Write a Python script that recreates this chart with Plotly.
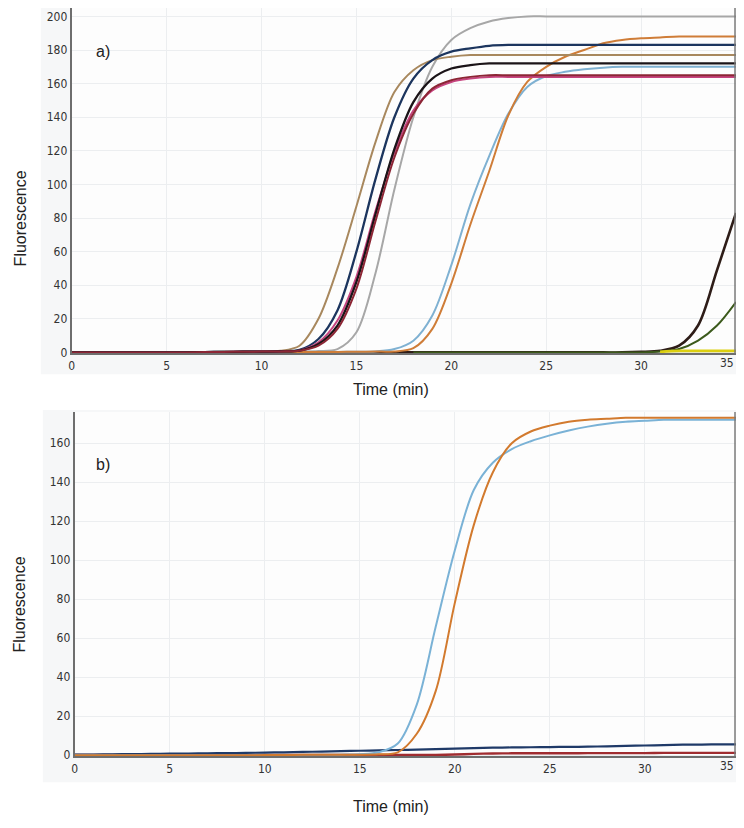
import plotly.graph_objects as go

# ---------------- data (time in minutes) ----------------
TIME_MIN = [0, 1, 2, 3, 4, 5, 6, 7, 8, 9, 10, 11, 12, 13, 14, 15, 16, 17,
            18, 19, 20, 21, 22, 23, 24, 25, 26, 27, 28, 29, 30, 31, 32, 33, 34, 35]

# panel a)
A_TAN = [0, 0, 0, 0, 0, 0, 0, 0.2, 0.4, 0.5, 0.6, 1.0, 4, 20, 50, 87, 125, 155,
         168, 174, 176, 177, 177, 177, 177, 177, 177, 177, 177, 177, 177, 177, 177, 177, 177, 177]
A_NAVY = [0, 0, 0, 0, 0, 0, 0, 0.2, 0.3, 0.4, 0.5, 0.7, 1.5, 8, 25, 60, 103, 140,
          163, 174, 179, 181, 182.5, 183, 183, 183, 183, 183, 183, 183, 183, 183, 183, 183, 183, 183]
A_BLACK = [0, 0, 0, 0, 0, 0, 0, 0.2, 0.3, 0.4, 0.5, 0.6, 1, 5, 16, 42, 82, 121,
           149, 163, 169, 171, 172, 172, 172, 172, 172, 172, 172, 172, 172, 172, 172, 172, 172, 172]
A_MAGENTA = [0, 0, 0, 0, 0, 0, 0, 0.2, 0.3, 0.4, 0.5, 0.6, 1.2, 6, 19, 45, 84, 119,
             144, 156, 161, 163, 164, 164, 164, 164, 164, 164, 164, 164, 164, 164, 164, 164, 164, 164]
A_RED = [0, 0, 0, 0, 0, 0, 0, 0.2, 0.3, 0.4, 0.5, 0.6, 1, 4, 14, 38, 78, 116,
         142, 157, 162, 164, 165, 165, 165, 165, 165, 165, 165, 165, 165, 165, 165, 165, 165, 165]
A_GRAY = [0, 0, 0, 0, 0, 0, 0, 0.2, 0.3, 0.3, 0.4, 0.4, 0.5, 0.8, 2, 12, 47, 97,
          140, 170, 186, 193, 197, 199, 200, 200, 200, 200, 200, 200, 200, 200, 200, 200, 200, 200]
A_LIGHTBLUE = [0, 0, 0, 0, 0, 0, 0, 0, 0, 0, 0.1, 0.1, 0.2, 0.2, 0.3, 0.4, 0.6, 2,
               7, 22, 52, 88, 117, 142, 158, 164.5, 167, 168.5, 169.5, 170, 170, 170, 170, 170, 170, 170]
A_ORANGE = [0, 0, 0, 0, 0, 0, 0, 0, 0, 0, 0.1, 0.1, 0.2, 0.2, 0.3, 0.4, 0.5, 0.6,
            2.5, 14, 41, 76, 108, 141, 161, 170, 176, 180, 184, 186, 187, 187.5, 188, 188, 188, 188]
A_LATE_BROWN = [None, None, None, None, None, None, None, 0, 0, 0, 0, 0, 0, 0, 0, 0, 0, 0,
                0, 0, 0, 0, 0, 0, 0, 0, 0, 0, 0, 0, 0.3, 1, 4, 16, 49, 83]
A_LATE_GREEN = [None, None, None, None, None, None, None, None, None, None, None, None, None, None, None, None, None, None,
                0, 0, 0, 0, 0, 0, 0, 0, 0, 0, 0, 0, 0, 0.5, 2, 7, 16, 30]
A_YELLOW = [None, None, None, None, None, None, None, None, None, None, None, None, None, None, None, None, None, None,
            None, None, None, None, None, None, None, None, None, None, None, None, None, 0.3, 0.9, 0.9, 0.9, 0.9]

# panel b)
B_LIGHTBLUE = [0, 0, 0, 0, 0, 0, 0, 0, 0, 0, 0.1, 0.1, 0.2, 0.2, 0.3, 0.5, 1.5, 6,
               26, 66, 105, 136, 150, 157, 161, 164, 166.5, 168.5, 170, 171, 171.5, 172, 172, 172, 172, 172]
B_ORANGE = [0, 0, 0, 0, 0, 0, 0, 0, 0, 0, 0.1, 0.1, 0.2, 0.2, 0.3, 0.3, 0.5, 1.5,
            11, 33, 78, 118, 145, 160, 166, 169, 171, 172, 172.5, 173, 173, 173, 173, 173, 173, 173]
B_NAVY = [0.3, 0.4, 0.5, 0.6, 0.7, 0.8, 0.9, 1.0, 1.1, 1.2, 1.4, 1.5, 1.7, 1.9, 2.1, 2.3, 2.5, 2.7,
          2.9, 3.1, 3.4, 3.7, 3.9, 4.0, 4.1, 4.2, 4.3, 4.4, 4.6, 4.8, 5.0, 5.2, 5.4, 5.5, 5.6, 5.6]
B_RED = [0.2, 0.2, 0.2, 0.2, 0.2, 0.2, 0.2, 0.2, 0.2, 0.2, 0.2, 0.2, 0.2, 0.2, 0.2, 0.2, 0.2, 0.2,
         0.2, 0.2, 0.4, 0.7, 0.9, 1.0, 1.0, 1.0, 1.0, 1.1, 1.1, 1.1, 1.1, 1.2, 1.2, 1.2, 1.2, 1.2]

X_TICKS = [0, 5, 10, 15, 20, 25, 30]
X_LAST_TICK = "35"
A_Y_TICKS = [0, 20, 40, 60, 80, 100, 120, 140, 160, 180, 200]
B_Y_TICKS = [0, 20, 40, 60, 80, 100, 120, 140, 160]

# ---------------- figure ----------------
# page is 744x828; the browser's default 8px body margin is accounted for
OFF = 8
W, H = 744 - 2 * OFF, 828 - 2 * OFF
fig = go.Figure()


def add(y, color, axis, width=2.0):
    xa, ya = axis
    fig.add_trace(go.Scatter(
        x=TIME_MIN, y=y, mode="lines", xaxis=xa, yaxis=ya,
        line=dict(color=color, width=width, shape="spline", smoothing=0.9),
        connectgaps=False, hoverinfo="skip", showlegend=False))


TOP = ("x", "y")
BOT = ("x2", "y2")

add(A_LATE_BROWN, "#2e1d18", TOP, 2.6)
add(A_LATE_GREEN, "#3c5a1c", TOP, 2.0)
add(A_YELLOW, "#dccf10", TOP, 2.6)
add(A_GRAY, "#a7a7a7", TOP)
add(A_LIGHTBLUE, "#7fb1d2", TOP)
add(A_ORANGE, "#cf7d38", TOP)
add(A_TAN, "#a8885e", TOP)
add(A_NAVY, "#1c355e", TOP, 2.3)
add(A_MAGENTA, "#c6447f", TOP)
add(A_BLACK, "#1b1418", TOP, 2.3)
add(A_RED, "#8c2635", TOP)

add(B_RED, "#a02c30", BOT, 2.4)
add(B_NAVY, "#1f3a68", BOT, 2.2)
add(B_LIGHTBLUE, "#7ab2d6", BOT)
add(B_ORANGE, "#d27a2e", BOT)


def px_x(p):
    return min(max((p - OFF) / W, 0), 1)


def px_y(p):
    return min(max(1 - (p - OFF) / H, 0), 1)


tickfont = dict(family="Tahoma, DejaVu Sans Condensed, DejaVu Sans", size=12, color="#333333")
grid = "#eceef0"

common_x = dict(tickvals=X_TICKS + [35], ticktext=[str(v) for v in X_TICKS] + [""],
                showgrid=True, gridcolor=grid, gridwidth=1,
                zeroline=False, showline=True, linecolor="#6e6e6e", linewidth=2,
                ticks="", tickfont=tickfont, fixedrange=True)
common_y = dict(showgrid=True, gridcolor=grid, gridwidth=1, zeroline=False,
                showline=True, linecolor="#6e6e6e", linewidth=2,
                ticks="", tickfont=tickfont, fixedrange=True)

TOP_DOM_X = [px_x(69), px_x(737)]
TOP_DOM_Y = [px_y(356), px_y(8)]
BOT_DOM_X = [px_x(72), px_x(736)]
BOT_DOM_Y = [px_y(762), px_y(415)]

fig.update_layout(
    width=W, height=H,
    margin=dict(l=0, r=0, t=0, b=0),
    paper_bgcolor="white",
    plot_bgcolor="#fdfdfd",
    showlegend=False,
    xaxis=dict(domain=TOP_DOM_X, anchor="y", range=[0, 35], **common_x),
    yaxis=dict(domain=TOP_DOM_Y, anchor="x", range=[-0.6, 205],
               tickvals=A_Y_TICKS, **common_y),
    xaxis2=dict(domain=BOT_DOM_X, anchor="y2", range=[0, 34.8], **common_x),
    yaxis2=dict(domain=BOT_DOM_Y, anchor="x2", range=[-0.6, 176],
                tickvals=B_Y_TICKS, **common_y),
    shapes=[
        dict(type="rect", xref="paper", yref="paper", x0=px_x(38), x1=1,
             y0=px_y(377), y1=1, fillcolor="#f6f7f8", line=dict(width=0), layer="below"),
        dict(type="rect", xref="paper", yref="paper", x0=px_x(40), x1=1,
             y0=px_y(788), y1=px_y(413), fillcolor="#f6f7f8", line=dict(width=0), layer="below"),
        dict(type="rect", xref="paper", yref="paper", x0=TOP_DOM_X[0], x1=TOP_DOM_X[1],
             y0=TOP_DOM_Y[0], y1=TOP_DOM_Y[1], fillcolor="#fdfdfd", line=dict(width=0), layer="below"),
        dict(type="rect", xref="paper", yref="paper", x0=BOT_DOM_X[0], x1=BOT_DOM_X[1],
             y0=BOT_DOM_Y[0], y1=BOT_DOM_Y[1], fillcolor="#fdfdfd", line=dict(width=0), layer="below"),
        dict(type="line", xref="paper", yref="paper", x0=px_x(735), x1=px_x(735),
             y0=TOP_DOM_Y[0], y1=TOP_DOM_Y[1], line=dict(color="#7a7a7a", width=1.5), layer="above"),
        dict(type="line", xref="paper", yref="paper", x0=px_x(735), x1=px_x(735),
             y0=BOT_DOM_Y[0], y1=BOT_DOM_Y[1], line=dict(color="#7a7a7a", width=1.5), layer="above"),
    ],
)

title_font = dict(family="Liberation Sans, Arial, sans-serif", size=16, color="#222222")
ann = [
    dict(text="Fluorescence", x=px_x(17), y=px_y(220), textangle=-90),
    dict(text="Fluorescence", x=px_x(17), y=px_y(609), textangle=-90),
    dict(text="Time (min)", x=px_x(390), y=px_y(392)),
    dict(text="Time (min)", x=px_x(390), y=px_y(812)),
    dict(text="a)", x=px_x(100), y=px_y(52)),
    dict(text="b)", x=px_x(100), y=px_y(468)),
]
for a in ann:
    fig.add_annotation(xref="paper", yref="paper", showarrow=False,
                       xanchor="center", yanchor="middle", font=title_font, **a)

# last x tick label, kept inside the page edge (reference shows it at the border)
for ypx in (366, 772):
    fig.add_annotation(xref="paper", yref="paper", x=1, y=px_y(ypx), text=X_LAST_TICK,
                       showarrow=False, xanchor="right", yanchor="middle", font=tickfont)

fig.write_html("out.html", config={"displayModeBar": False})
